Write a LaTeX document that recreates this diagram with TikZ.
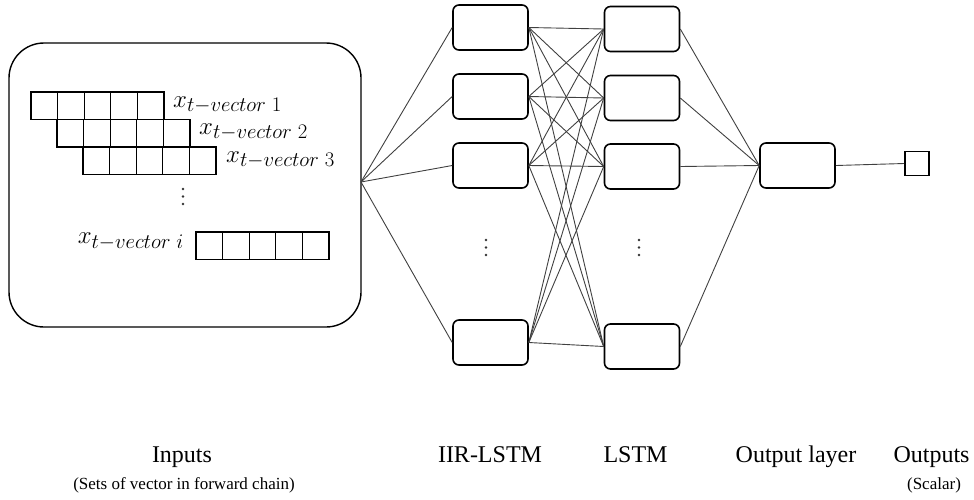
\documentclass[tikz,border=0pt]{standalone}
\usepackage{fontspec}
\setmainfont{Liberation Serif}
\DeclareMathSizes{26}{26}{20}{14}
\begin{document}
\begin{tikzpicture}[x=1pt,y=-1pt,
  cell/.style={draw=black, line width=1.6pt, rounded corners=6pt, minimum width=75pt, minimum height=45pt, inner sep=0pt},
  conn/.style={draw=black!75, line width=0.9pt},
  lbl/.style={font=\fontsize{24}{28}\selectfont, inner sep=0pt},
  sublbl/.style={font=\fontsize{17}{20}\selectfont, inner sep=0pt},
  vlbl/.style={font=\fontsize{26}{30}\selectfont, inner sep=0pt},
  dotmark/.style={fill=black!80, draw=none}]
\useasboundingbox (0,0) rectangle (974,499);

% input box
\node[draw, line width=1.4pt, rounded corners=35pt, minimum width=352pt, minimum height=284pt, inner sep=0pt] (inbox) at (185,185) {};
\coordinate (fan) at (361,182);

% vector rows
\foreach \x/\y in {31/92, 57/119.5, 83/147, 196/232}{
  \foreach \k in {1,...,4} \draw[line width=0.8pt] (\x+26.6*\k,\y) -- (\x+26.6*\k,\y+27.5);
  \draw[line width=1.5pt] (\x,\y) rectangle (\x+133,\y+27.5);
}
\node[vlbl, anchor=base west] (l1) at (173,107) {$x_{t-vector\;1}$};
\node[vlbl, anchor=base west] (l2) at (199,134) {$x_{t-vector\;2}$};
\node[vlbl, anchor=base west] (l3) at (226,162) {$x_{t-vector\;3}$};
\node[vlbl, anchor=base east] (li) at (184,243) {$x_{t-vector\;i}$};
\foreach \yy in {189,196.5,204} \fill[dotmark] (183,\yy) circle (1.4pt);

% IIR-LSTM column
\node[cell] (a1) at (490.5,27.5) {};
\node[cell] (a2) at (490.5,96.5) {};
\node[cell] (a3) at (490.5,165.5) {};
\node[cell] (a4) at (490.5,342.5) {};
% LSTM column
\node[cell] (b1) at (642,29) {};
\node[cell] (b2) at (642,98) {};
\node[cell] (b3) at (642,166.5) {};
\node[cell] (b4) at (642,346.5) {};
% output layer
\node[cell] (o) at (797.5,165.5) {};
\node[draw=black, line width=1.6pt, minimum size=24pt, inner sep=0pt] (s) at (917,163.5) {};

\foreach \yy in {240,247.5,255} {
  \fill[dotmark] (486,\yy) circle (1.4pt);
  \fill[dotmark] (639,\yy) circle (1.4pt);
}

% connectors
\foreach \i in {1,...,4} \draw[conn] (fan) -- (a\i.west);
\foreach \i in {1,...,4} \foreach \j in {1,...,4} \draw[conn] (a\i.east) -- (b\j.west);
\foreach \j in {1,...,4} \draw[conn] (b\j.east) -- (o.west);
\draw[conn] (o.east) -- (s.west);

% captions
\node[lbl, anchor=base] (t1) at (182,462) {Inputs};
\node[sublbl, anchor=base] (t1s) at (184,489) {(Sets of vector in forward chain)};
\node[lbl, anchor=base] (t2) at (490,462) {IIR-LSTM};
\node[lbl, anchor=base] (t3) at (635.5,462) {LSTM};
\node[lbl, anchor=base] (t4) at (796,462) {Output layer};
\node[lbl, anchor=base] (t5) at (931.5,462) {Outputs};
\node[sublbl, anchor=base] (t5s) at (934,489) {(Scalar)};
\end{tikzpicture}
\end{document}
